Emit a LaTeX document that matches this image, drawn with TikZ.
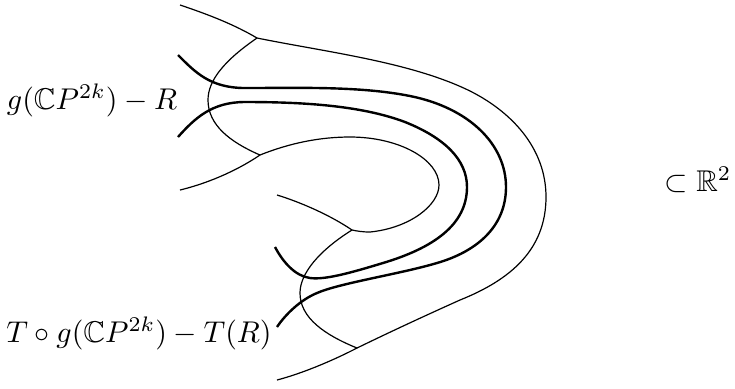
\documentclass[tikz,border=0pt]{standalone}
\usepackage{amssymb}
\begin{document}
\begin{tikzpicture}[x=0.3333pt,y=-0.3333pt]
      \useasboundingbox (0,0) rectangle (735,388);
      % Bord exterieur
      \draw (180,5) .. controls (210,15) and (235,25) .. (257,38);
      \draw (257,38) .. controls (326,52) and (411,62) .. (470,91)
            .. controls (510,111) and (546,147) .. (546,197)
            .. controls (546,250) and (510,280) .. (460,300)
            .. controls (420,318) and (390,332) .. (357,348);
      \draw (357,348) .. controls (330,362) and (300,374) .. (277,380);
      
      % Bord interieur (trou)
      \draw (180,190) .. controls (205,184) and (235,172) .. (260,155);
      \draw (260,155) .. controls (290,143) and (320,137) .. (350,137)
            .. controls (400,137) and (439,160) .. (439,185)
            .. controls (439,205) and (410,228) .. (370,232)
            .. controls (362,232) and (357,231) .. (352,230);
      \draw (352,230) .. controls (330,215) and (300,202) .. (277,195);
      
      % Sections
      \draw (257,38) .. controls (225,60) and (208,80) .. (208,100)
            .. controls (208,125) and (230,142) .. (260,155);
      \draw (352,230) .. controls (320,250) and (300,273) .. (300,293)
            .. controls (300,318) and (325,335) .. (357,348);
      
      % Courbes epaisses
      \draw[thick] (178,55) .. controls (195,72) and (210,88) .. (245,88)
            .. controls (300,88) and (360,86) .. (410,96)
            .. controls (470,108) and (506,145) .. (506,187)
            .. controls (506,228) and (475,252) .. (437,263)
            .. controls (400,274) and (340,283) .. (317,293)
            .. controls (300,300) and (285,315) .. (277,327);
      \draw[thick] (178,137) .. controls (195,118) and (212,102) .. (245,102)
            .. controls (300,102) and (360,105) .. (405,122)
            .. controls (445,138) and (467,160) .. (467,187)
            .. controls (467,225) and (433,248) .. (383,263)
            .. controls (350,273) and (325,280) .. (310,278)
            .. controls (295,276) and (283,262) .. (275,247);
      
      % Etiquettes
      \node (haut) at (92,100) {$g(\mathbb{C}P^{2k})-R$};
      \node (bas) at (139,333) {$T\circ g(\mathbb{C}P^{2k})-T(R)$};
      \node[anchor=east, inner xsep=0pt] (plan) at (732,180) {$\subset\mathbb{R}^2$};
    \end{tikzpicture}
\end{document}
